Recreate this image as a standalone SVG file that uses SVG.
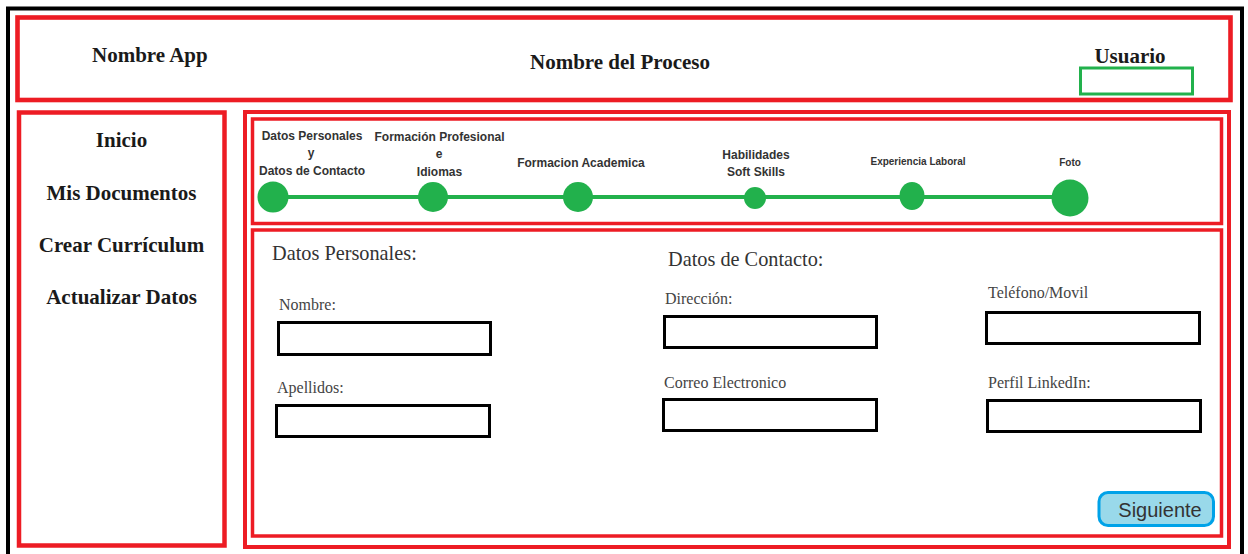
<svg xmlns="http://www.w3.org/2000/svg" width="1248" height="554" viewBox="0 0 1248 554">
<style>
.red{fill:none;stroke:#ed1c24}
.hd{font-family:"Liberation Serif","Times New Roman",serif;font-weight:bold;font-size:21px;fill:#1a1a1a}
.nav{font-family:"Liberation Serif","Times New Roman",serif;font-weight:bold;font-size:21px;fill:#1a1a1a;text-anchor:middle}
.st{font-family:"Liberation Sans",Arial,sans-serif;font-weight:bold;font-size:12px;fill:#333;text-anchor:middle}
.sts{font-family:"Liberation Sans",Arial,sans-serif;font-weight:bold;font-size:10px;fill:#333;text-anchor:middle}
.fh{font-family:"Liberation Serif","Times New Roman",serif;font-size:20.3px;fill:#333}
.fl{font-family:"Liberation Serif","Times New Roman",serif;font-size:16px;fill:#444}
.box{fill:#fff;stroke:#000;stroke-width:3}
.dot{fill:#22b14c}
</style>
<rect width="1248" height="554" fill="#fff"/>
<rect x="8" y="8.5" width="1234" height="560" fill="none" stroke="#000" stroke-width="4"/>

<g id="header">
<rect class="red" x="17.5" y="17.5" width="1213" height="82.5" stroke-width="4.6"/>
<text class="hd" x="92" y="62">Nombre App</text>
<text class="hd" x="620" y="69" text-anchor="middle">Nombre del Proceso</text>
<text class="hd" x="1130" y="63" text-anchor="middle" font-size="20">Usuario</text>
<rect x="1080.5" y="68" width="112" height="26" fill="none" stroke="#22b14c" stroke-width="3"/>
</g>

<g id="sidebar">
<rect class="red" x="19" y="112.5" width="205.5" height="433" stroke-width="4.5"/>
<text class="nav" x="121.5" y="147">Inicio</text>
<text class="nav" x="121.5" y="200">Mis Documentos</text>
<text class="nav" x="121.5" y="252">Crear Currículum</text>
<text class="nav" x="121.5" y="304">Actualizar Datos</text>
</g>

<g id="main">
<rect class="red" x="245" y="112" width="984" height="435" stroke-width="4"/>
</g>

<g id="steps">
<rect class="red" x="252.5" y="119" width="969" height="104.5" stroke-width="3.5"/>
<g id="connectors">
<line x1="273" y1="197" x2="1070" y2="197" stroke="#22b14c" stroke-width="4"/>
</g>
<g id="step1">
<circle class="dot" cx="273" cy="197" r="15.5"/>
<text class="st" x="312" y="140">Datos Personales</text>
<text class="st" x="311" y="157">y</text>
<text class="st" x="312" y="175">Datos de Contacto</text>
</g>
<g id="step2">
<circle class="dot" cx="433" cy="197" r="15"/>
<text class="st" x="439.5" y="141">Formación Profesional</text>
<text class="st" x="439" y="158">e</text>
<text class="st" x="439.5" y="176">Idiomas</text>
</g>
<g id="step3">
<circle class="dot" cx="578" cy="197" r="15"/>
<text class="st" x="581" y="167">Formacion Academica</text>
</g>
<g id="step4">
<circle class="dot" cx="755" cy="198" r="11"/>
<text class="st" x="756" y="159">Habilidades</text>
<text class="st" x="756" y="176">Soft Skills</text>
</g>
<g id="step5">
<ellipse class="dot" cx="912" cy="196" rx="12.5" ry="14"/>
<text class="sts" x="918" y="165">Experiencia Laboral</text>
</g>
<g id="step6">
<circle class="dot" cx="1070" cy="198" r="18.5"/>
<text class="sts" x="1070" y="166">Foto</text>
</g>
</g>

<g id="form">
<rect class="red" x="252.5" y="230" width="969" height="306" stroke-width="3.5"/>
<text class="fh" x="272" y="260">Datos Personales:</text>
<text class="fh" x="668" y="266">Datos de Contacto:</text>
<g id="f-nombre">
<text class="fl" x="279" y="310">Nombre:</text>
<rect class="box" x="278.5" y="322.5" width="212" height="32"/>
</g>
<g id="f-apellidos">
<text class="fl" x="277" y="393">Apellidos:</text>
<rect class="box" x="276.5" y="405.5" width="213" height="31"/>
</g>
<g id="f-direccion">
<text class="fl" x="665" y="304">Dirección:</text>
<rect class="box" x="664.5" y="316.5" width="212" height="31"/>
</g>
<g id="f-telefono">
<text class="fl" x="988" y="298">Teléfono/Movil</text>
<rect class="box" x="986.5" y="312.5" width="213" height="31"/>
</g>
<g id="f-correo">
<text class="fl" x="664" y="388">Correo Electronico</text>
<rect class="box" x="663.5" y="399.5" width="213" height="31"/>
</g>
<g id="f-linkedin">
<text class="fl" x="988" y="388">Perfil LinkedIn:</text>
<rect class="box" x="987.5" y="400.5" width="213" height="31"/>
</g>
<g id="btn-siguiente">
<rect x="1099" y="492.5" width="114.5" height="33" rx="9" fill="#99d9ea" stroke="#00a2e8" stroke-width="3"/>
<text x="1160" y="516.5" font-family="Liberation Sans,Arial,sans-serif" font-size="20" fill="#333" text-anchor="middle">Siguiente</text>
</g>
</g>
</svg>
